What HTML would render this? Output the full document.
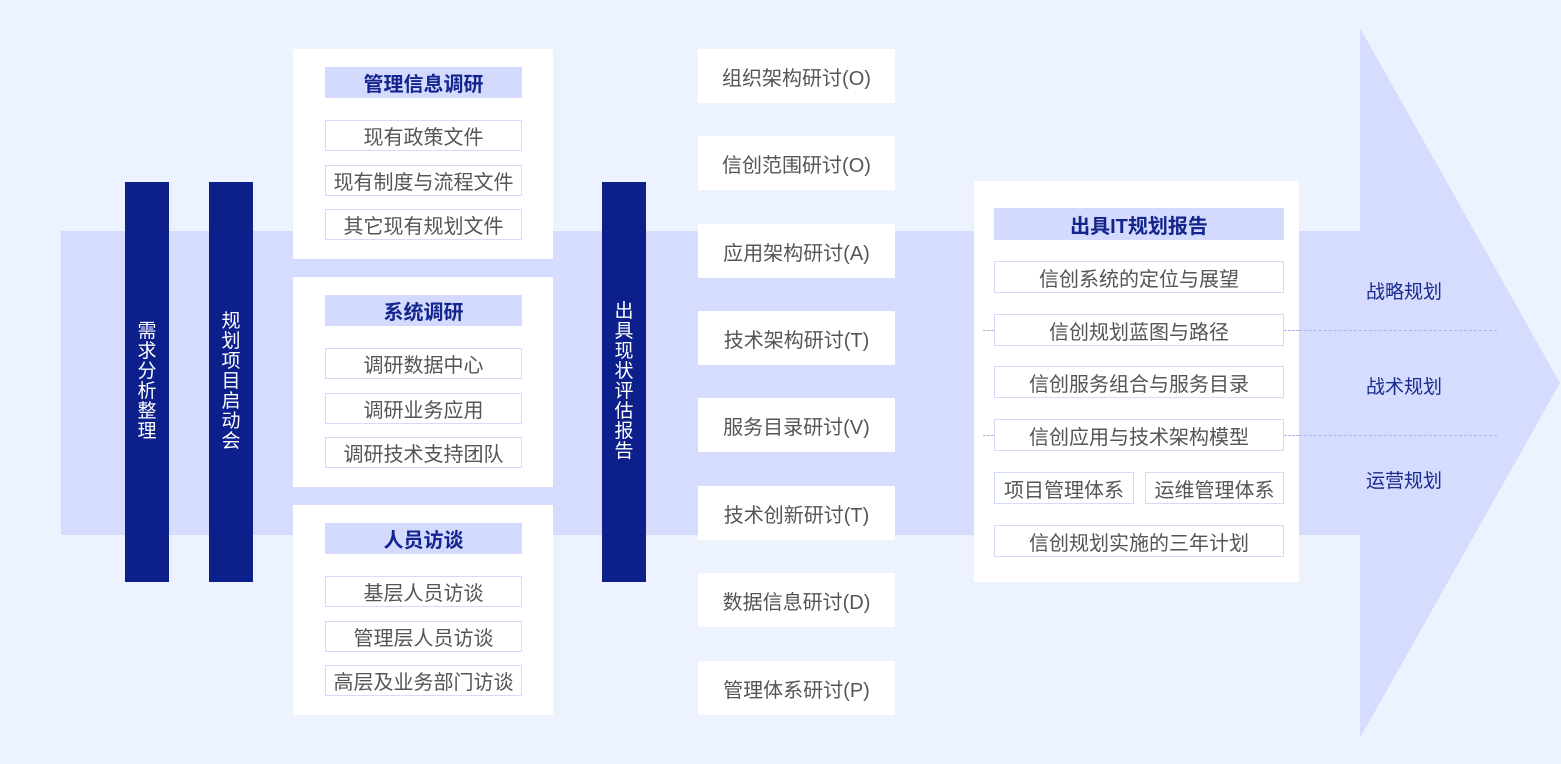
<!DOCTYPE html>
<html><head><meta charset="utf-8"><style>
*{margin:0;padding:0;box-sizing:border-box}
body{width:1561px;height:764px;background:#edf3fe;position:relative;overflow:hidden;font-family:"Liberation Sans","Noto Sans CJK SC",sans-serif}
.a{position:absolute}
.bar{position:absolute;top:182px;width:44px;height:400px;background:#0c1f8a;color:#fff;font-size:19px;line-height:20px;display:flex;align-items:center;justify-content:center;text-align:center}
.bar span{width:20px;word-break:break-all}
.panel{position:absolute;background:#fff}
.hd{position:absolute;background:#d3dafd;color:#13248c;font-weight:bold;font-size:20px;display:flex;align-items:center;justify-content:center}
.it{position:absolute;border:1px solid #d3dafd;background:#fff;color:#555;font-size:20px;display:flex;align-items:center;justify-content:center;white-space:nowrap}
.mid{position:absolute;left:698px;width:197px;height:54px;background:#fff;color:#555;font-size:20px;display:flex;align-items:center;justify-content:center}
.lab{position:absolute;left:1344px;width:120px;text-align:center;color:#1a2a8f;font-size:19px}
.dash{position:absolute;height:0;border-top:1px dashed #aab4f0}
</style></head><body>
<div class="a" style="left:61px;top:231px;width:1300px;height:304px;background:#d5dcfd"></div>
<svg class="a" style="left:0;top:0" width="1561" height="764"><polygon points="1360,28 1560,383 1360,738" fill="#d5dcfd"/></svg>

<div class="bar" style="left:125px"><span>需求分析整理</span></div>
<div class="bar" style="left:209px"><span>规划项目启动会</span></div>
<div class="bar" style="left:602px"><span>出具现状评估报告</span></div>

<div class="panel" style="left:293px;top:49px;width:260px;height:210px">
<div class="hd" style="left:32px;top:18px;width:197px;height:31px">管理信息调研</div>
<div class="it" style="left:32px;top:71px;width:197px;height:31px">现有政策文件</div>
<div class="it" style="left:32px;top:116px;width:197px;height:31px">现有制度与流程文件</div>
<div class="it" style="left:32px;top:160px;width:197px;height:31px">其它现有规划文件</div>
</div>
<div class="panel" style="left:293px;top:277px;width:260px;height:210px">
<div class="hd" style="left:32px;top:18px;width:197px;height:31px">系统调研</div>
<div class="it" style="left:32px;top:71px;width:197px;height:31px">调研数据中心</div>
<div class="it" style="left:32px;top:116px;width:197px;height:31px">调研业务应用</div>
<div class="it" style="left:32px;top:160px;width:197px;height:31px">调研技术支持团队</div>
</div>
<div class="panel" style="left:293px;top:505px;width:260px;height:210px">
<div class="hd" style="left:32px;top:18px;width:197px;height:31px">人员访谈</div>
<div class="it" style="left:32px;top:71px;width:197px;height:31px">基层人员访谈</div>
<div class="it" style="left:32px;top:116px;width:197px;height:31px">管理层人员访谈</div>
<div class="it" style="left:32px;top:160px;width:197px;height:31px">高层及业务部门访谈</div>
</div>

<div class="mid" style="top:49px">组织架构研讨(O)</div>
<div class="mid" style="top:136px">信创范围研讨(O)</div>
<div class="mid" style="top:224px">应用架构研讨(A)</div>
<div class="mid" style="top:311px">技术架构研讨(T)</div>
<div class="mid" style="top:398px">服务目录研讨(V)</div>
<div class="mid" style="top:486px">技术创新研讨(T)</div>
<div class="mid" style="top:573px">数据信息研讨(D)</div>
<div class="mid" style="top:661px">管理体系研讨(P)</div>

<div class="dash" style="left:983px;top:330px;width:514px"></div>
<div class="dash" style="left:983px;top:435px;width:514px"></div>
<div class="panel" style="left:974px;top:181px;width:325px;height:401px"></div>
<div class="dash" style="left:983px;top:330px;width:11px"></div>
<div class="dash" style="left:983px;top:435px;width:11px"></div>
<div class="dash" style="left:1284px;top:330px;width:15px"></div>
<div class="dash" style="left:1284px;top:435px;width:15px"></div>
<div class="hd" style="left:994px;top:208px;width:290px;height:32px">出具IT规划报告</div>
<div class="it" style="left:994px;top:261px;width:290px;height:32px">信创系统的定位与展望</div>
<div class="it" style="left:994px;top:314px;width:290px;height:32px">信创规划蓝图与路径</div>
<div class="it" style="left:994px;top:366px;width:290px;height:32px">信创服务组合与服务目录</div>
<div class="it" style="left:994px;top:419px;width:290px;height:32px">信创应用与技术架构模型</div>
<div class="it" style="left:994px;top:472px;width:140px;height:32px">项目管理体系</div>
<div class="it" style="left:1145px;top:472px;width:139px;height:32px">运维管理体系</div>
<div class="it" style="left:994px;top:525px;width:290px;height:32px">信创规划实施的三年计划</div>

<div class="lab" style="top:277px">战略规划</div>
<div class="lab" style="top:372px">战术规划</div>
<div class="lab" style="top:466px">运营规划</div>
</body></html>
